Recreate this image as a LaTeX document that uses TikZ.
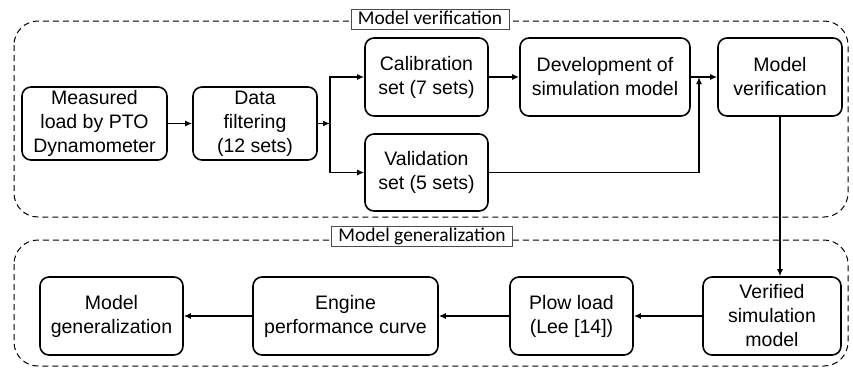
\documentclass[tikz,border=0pt]{standalone}
\usepackage{fontspec}
\setmainfont{Liberation Sans}
\newfontfamily\tagfont{Carlito}
\usetikzlibrary{arrows.meta}

\begin{document}
\begin{tikzpicture}[x=1pt,y=-1pt,
  blk/.style={draw,line width=1.6pt,rounded corners=9pt,align=center,inner sep=0pt,font=\fontsize{19.5}{24}\selectfont},
  flow/.style={line width=1.4pt,-{Latex[length=7pt,width=6pt]}},
  grp/.style={dash pattern=on 6pt off 4pt,line width=1pt,rounded corners=24pt},
  tag/.style={draw=gray!60!black,fill=white,line width=0.6pt,inner xsep=7pt,inner ysep=2pt,text height=13pt,text depth=3pt,font=\tagfont\fontsize{19.5}{22}\selectfont}]
  \useasboundingbox (0,0) rectangle (853,368);
  % the two dashed groups
  \draw[grp] (14,21) rectangle (848,217);
  \draw[grp] (14,240) rectangle (848,366);
  \node[tag] (tverif) at (430,19.5) {Model verification};
  \node[tag] (tgen) at (422,236.5) {Model generalization};
  % upper row
  \node[blk,minimum width=145pt,minimum height=73pt] (meas) at (94.5,123.5) {Measured\\load by PTO\\Dynamometer};
  \node[blk,minimum width=124pt,minimum height=73pt] (filt) at (255,123.5) {Data\\filtering\\(12 sets)};
  \node[blk,minimum width=123pt,minimum height=78pt] (calib) at (426.5,77) {Calibration\\set (7 sets)};
  \node[blk,minimum width=123pt,minimum height=77pt] (valid) at (426.5,172.5) {Validation\\set (5 sets)};
  \node[blk,minimum width=170pt,minimum height=78pt] (devel) at (605,77) {Development of\\simulation model};
  \node[blk,minimum width=124pt,minimum height=78pt] (verif) at (780,77) {Model\\verification};
  % lower row
  \node[blk,minimum width=138pt,minimum height=78pt] (vsim) at (772,316) {Verified\\simulation\\model};
  \node[blk,minimum width=123pt,minimum height=78pt] (plow) at (571.5,316) {Plow load\\(Lee [14])};
  \node[blk,minimum width=185pt,minimum height=78pt] (engine) at (345.5,316) {Engine\\performance curve};
  \node[blk,minimum width=143pt,minimum height=78pt] (mgen) at (111.5,316) {Model\\generalization};
  % connectors
  \coordinate (split) at (330,123.5);
  \coordinate (join) at (699,77);
  \draw[flow] (meas) -- (filt);
  \draw[flow] (filt) -- (split);
  \draw[flow] (split) |- (calib);
  \draw[flow] (split) |- (valid);
  \draw[flow] (calib) -- (devel);
  \draw[flow] (devel) -- (verif);
  \draw[flow] (valid) -| (join);
  \draw[flow] (verif.south) -- (verif.south |- vsim.north);
  \draw[flow] (vsim) -- (plow);
  \draw[flow] (plow) -- (engine);
  \draw[flow] (engine) -- (mgen);
\end{tikzpicture}
\end{document}
